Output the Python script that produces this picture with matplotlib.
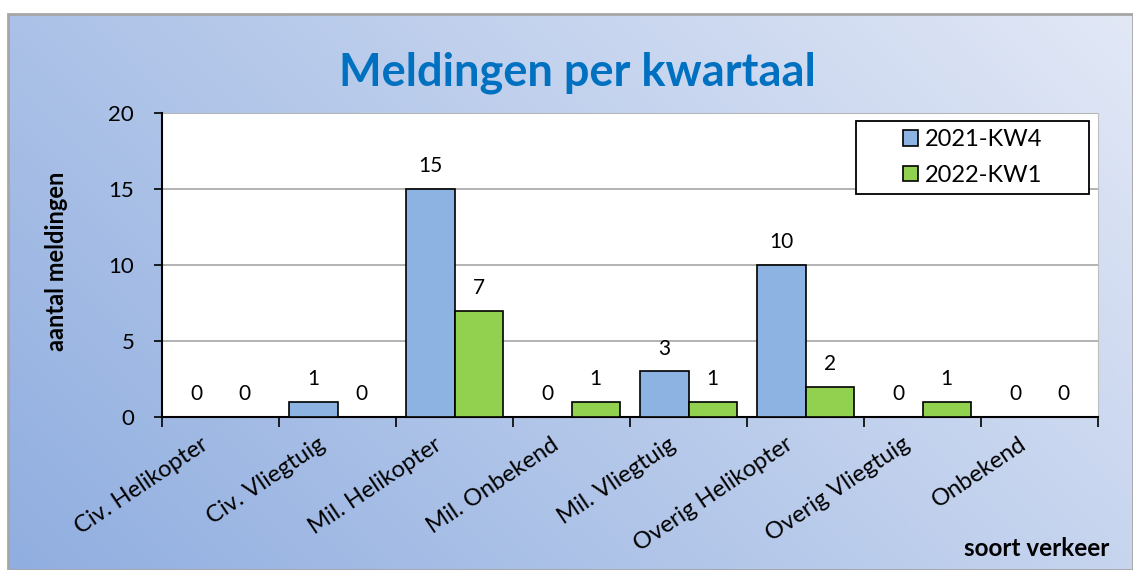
import numpy as np
import matplotlib
matplotlib.use("Agg")
import matplotlib.pyplot as plt
from matplotlib.patches import Rectangle
import matplotlib.transforms as mtransforms

plt.rcParams["font.family"] = ["Lato", "DejaVu Sans"]

# ── Data ──────────────────────────────────────────────────────────────
categories = ["Civ. Helikopter", "Civ. Vliegtuig", "Mil. Helikopter", "Mil. Onbekend",
              "Mil. Vliegtuig", "Overig Helikopter", "Overig Vliegtuig", "Onbekend"]
series_names = ["2021-KW4", "2022-KW1"]
kw4_2021 = [0, 1, 15, 0, 3, 10, 0, 0]
kw1_2022 = [0, 0, 7, 1, 1, 2, 1, 0]
series_colors = ["#8db3e2", "#92d050"]
y_ticks = [0, 5, 10, 15, 20]

W, H = 1133, 570
fig = plt.figure(figsize=(W / 100, H / 100), dpi=100)
fig.patch.set_facecolor("white")

# ── Gradient background with border ───────────────────────────────────
bg = fig.add_axes([8 / W, 0, (W - 8) / W, (H - 14) / H], zorder=0)
gx, gy = np.meshgrid(np.linspace(0, 1, 400), np.linspace(0, 1, 200))
t = (gx * 2.0 + gy) / 3.0
dark = np.array([0x90, 0xae, 0xe0]) / 255
light = np.array([0xe2, 0xe8, 0xf6]) / 255
img = dark[None, None, :] * (1 - t[..., None]) + light[None, None, :] * t[..., None]
bg.imshow(img, origin="lower", extent=[0, 1, 0, 1], aspect="auto")
bg.add_patch(Rectangle((0, 0), 1, 1, fill=False, edgecolor="#a6a6a6", lw=2,
                       transform=bg.transAxes, clip_on=False))
bg.set_xlim(0, 1)
bg.set_ylim(0, 1)
bg.axis("off")

# ── Main chart ────────────────────────────────────────────────────────
ax = fig.add_axes([162 / W, (H - 417) / H, (1098 - 162) / W, (417 - 113) / H], zorder=1)
ax.set_facecolor("white")

x = np.arange(len(categories))
width = 0.415
bars1 = ax.bar(x - width / 2, kw4_2021, width, color=series_colors[0], edgecolor="black",
               linewidth=1.2, label=series_names[0], zorder=3)
bars2 = ax.bar(x + width / 2, kw1_2022, width, color=series_colors[1], edgecolor="black",
               linewidth=1.2, label=series_names[1], zorder=3)

for bars in (bars1, bars2):
    for b in bars:
        ax.annotate(f"{int(b.get_height())}", (b.get_x() + b.get_width() / 2, b.get_height()),
                    xytext=(0, 9), textcoords="offset points", ha="center", va="bottom",
                    fontsize=15)

ax.set_xlim(-0.5, len(categories) - 0.5)
ax.set_ylim(0, 20)
ax.set_yticks(y_ticks)
ax.tick_params(axis="y", labelsize=16, length=6, width=1.2, direction="out", pad=14)
ax.yaxis.grid(True, color="#a6a6a6", linewidth=1.2, zorder=0)

# tick marks at category boundaries, labels at centers
ax.set_xticks(np.arange(len(categories) + 1) - 0.5)
ax.set_xticklabels([])
ax.tick_params(axis="x", which="major", length=7, width=1.2, direction="out")
ax.set_xticks(x, minor=True)
ax.set_xticklabels(categories, minor=True, rotation=34, ha="right", fontsize=17)
ax.tick_params(axis="x", which="minor", length=0, pad=12)
offset = mtransforms.ScaledTranslation(-9 / 100, 0, fig.dpi_scale_trans)
for lbl in ax.get_xticklabels(minor=True):
    lbl.set_transform(lbl.get_transform() + offset)

for s in ("left", "bottom"):
    ax.spines[s].set_linewidth(1.5)
    ax.spines[s].set_color("black")
ax.spines["top"].set_visible(False)
ax.spines["right"].set_color("#bfbfbf")

# legend: entries centred in a wide square frame
lx0, lx1, ly0, ly1 = 856, 1089, 121, 194
ax.add_patch(Rectangle((lx0 / W, (H - ly1) / H), (lx1 - lx0) / W, (ly1 - ly0) / H,
                       transform=fig.transFigure, facecolor="white", edgecolor="black",
                       linewidth=1.3, zorder=4, clip_on=False))
leg = ax.legend(loc="center", bbox_to_anchor=((lx0 + lx1) / 2 / W, (H - (ly0 + ly1) / 2) / H),
                bbox_transform=fig.transFigure, fontsize=17, frameon=False,
                handlelength=0.62, handleheight=0.62, handletextpad=0.3,
                borderpad=0, labelspacing=0.6)
leg.set_zorder(5)

fig.text(577 / W, (H - 73) / H, "Meldingen per kwartaal", ha="center", va="center",
         fontsize=32.5, fontweight="bold", color="#0070c0")
fig.text(56 / W, (H - 261) / H, "aantal meldingen", ha="center", va="center", rotation=90,
         fontsize=17, fontweight="bold")
fig.text(1109 / W, (H - 548) / H, "soort verkeer", ha="right", va="center",
         fontsize=17.5, fontweight="bold")

fig.savefig("out.png", dpi=100)
